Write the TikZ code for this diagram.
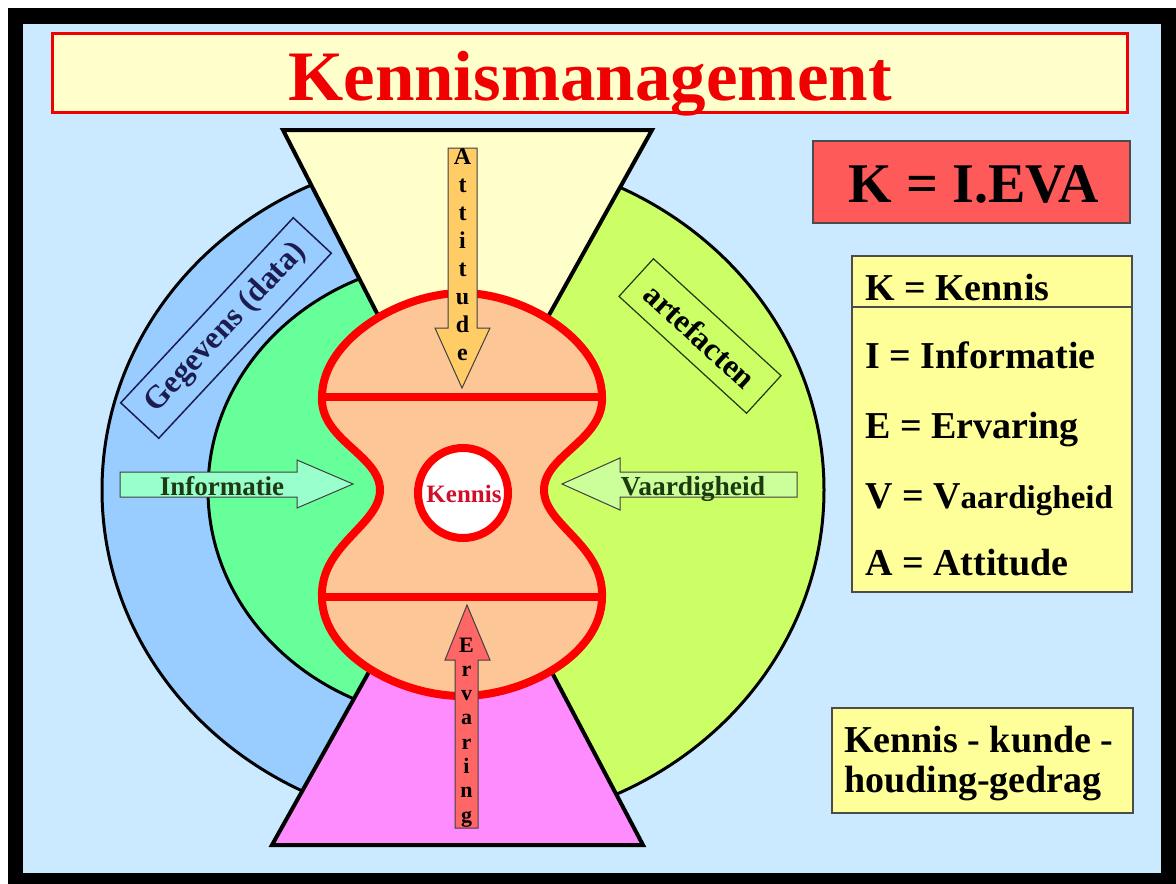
\documentclass[tikz,border=0pt]{standalone}
\usepackage{fontspec}
\setmainfont{Liberation Serif}
\definecolor{bgblue}{HTML}{CCEAFF}
\definecolor{titlered}{HTML}{F00000}
\definecolor{paleyellow}{HTML}{FFFFCC}
\definecolor{ringblue}{HTML}{99CCFF}
\definecolor{innergreen}{HTML}{66FF99}
\definecolor{limegreen}{HTML}{CCFF66}
\definecolor{pinkfill}{HTML}{FF8CFF}
\definecolor{peach}{HTML}{FCC696}
\definecolor{attfill}{HTML}{FFCC66}
\definecolor{ervfill}{HTML}{FF6666}
\definecolor{infofill}{HTML}{99FFCC}
\definecolor{vaarfill}{HTML}{CCFF99}
\definecolor{formulafill}{HTML}{FF5A5A}
\definecolor{legendfill}{HTML}{FFFF99}
\definecolor{navy}{HTML}{1C1C50}
\definecolor{darkgreen}{HTML}{1E3A10}
\definecolor{kennisred}{HTML}{D0102A}
\newcommand\pxsize[1]{\fontsize{#1}{#1}\selectfont}
\tikzset{
  ringline/.style={draw=black, line width=3},
  tri/.style={draw=black, line width=4, line join=miter},
  redline/.style={draw=red, line width=8},
  arrowshape/.style={draw=black!75, line width=1},
  lbl/.style={inner sep=0},
  boxline/.style={draw=black!70, line width=1.5},
  legendtext/.style={inner sep=0, font={\bfseries\pxsize{38}}, anchor=base west},
}
\begin{document}
\begin{tikzpicture}[x=1pt,y=-1pt]
\useasboundingbox (0,0) rectangle (1176,884);
% frame and background
\fill[white] (0,0) rectangle (1176,884);
\fill[black] (8,8) rectangle (1176,884);
\fill[bgblue] (23,24) rectangle (1161,873);

% title bar
\draw[draw=titlered, line width=3, fill=paleyellow] (52,33) rectangle (1127,112);
\node[lbl, text=titlered, font={\bfseries\pxsize{71}}, anchor=base] (title) at (590,100) {Kennismanagement};

% left half: data ring and information disc
\begin{scope}
  \clip (0,0) rectangle (463,884);
  \draw[ringline, fill=ringblue] (463,490) ellipse [x radius=361, y radius=336];
  \draw[ringline, fill=innergreen] (463,490) ellipse [x radius=255, y radius=231];
\end{scope}
% right half: artefacts
\begin{scope}
  \clip (463,0) rectangle (1176,884);
  \draw[ringline, fill=limegreen] (463,490) ellipse [x radius=361, y radius=336];
\end{scope}

% funnels
\draw[tri, fill=paleyellow] (283,130) -- (652,130) -- (460,475) -- cycle;
\draw[tri, fill=pinkfill] (272,845) -- (643,845) -- (463,504) -- cycle;

% hourglass of knowledge
\draw[redline, fill=peach, line join=round]
  (322,397) .. controls (322,340) and (400,293) .. (462,293)
  .. controls (524,293) and (602,340) .. (602,397)
  .. controls (604,440) and (544,455) .. (544,490)
  .. controls (544,525) and (604,545) .. (602,597)
  .. controls (602,655) and (524,696) .. (462,696)
  .. controls (400,696) and (322,655) .. (322,597)
  .. controls (320,545) and (380,525) .. (380,490)
  .. controls (380,455) and (320,440) .. (322,397) -- cycle;
\draw[redline] (322,397) -- (602,397);
\draw[redline] (322,597) -- (602,597);

\node[circle, draw=red, line width=8, fill=white, minimum size=90, inner sep=0] (kcircle) at (463,493) {};
\node[lbl, text=kennisred, font={\bfseries\pxsize{25}}, anchor=base] (kennis) at (464,502) {Kennis};

% Attitude arrow (down)
\draw[arrowshape, fill=attfill] (448,148) -- (477,148) -- (477,328) -- (490,328) -- (462,388) -- (435,328) -- (448,328) -- cycle;
\foreach \c [count=\i from 0] in {A,t,t,i,t,u,d,e}
  \node[lbl, font={\bfseries\pxsize{24}}, anchor=base] (att\i) at (462.5,{164+28*\i}) {\c};

% Ervaring arrow (up)
\draw[arrowshape, fill=ervfill] (455,828) -- (478,828) -- (478,660) -- (490,660) -- (467,605) -- (445,660) -- (455,660) -- cycle;
\foreach \c [count=\i from 0] in {E,r,v,a,r,i,n,g}
  \node[lbl, font={\bfseries\pxsize{22}}, anchor=base] (erv\i) at (466.5,{652+24.3*\i}) {\c};

% Informatie arrow (right)
\draw[arrowshape, fill=infofill] (120,472) -- (297,472) -- (297,460) -- (353,484) -- (297,508) -- (297,497) -- (120,497) -- cycle;
\node[lbl, text=darkgreen, font={\bfseries\pxsize{27}}, anchor=base] (info) at (222,495) {Informatie};

% Vaardigheid arrow (left)
\draw[arrowshape, fill=vaarfill] (797,472) -- (620,472) -- (620,458) -- (562,484) -- (620,510) -- (620,497) -- (797,497) -- cycle;
\node[lbl, text=darkgreen, font={\bfseries\pxsize{27.5}}, anchor=base] (vaar) at (693,495) {Vaardigheid};

% ring labels
\node[draw=navy, line width=1.5, rotate=47, minimum width=253, minimum height=52, inner sep=0,
      text=navy, font={\bfseries\pxsize{32}}] (data) at (226,328) {Gegevens (data)};
\node[draw=darkgreen, line width=1.2, rotate=-42.5, minimum width=173, minimum height=51, inner sep=0,
      font={\bfseries\pxsize{32}}] (artef) at (700,336) {artefacten};

% formula
\draw[boxline, fill=formulafill] (813,141) rectangle (1130,223);
\node[lbl, font={\bfseries\pxsize{56}}, anchor=base] (formula) at (974,202) {K = I.EVA};

% legend
\draw[boxline, fill=legendfill] (852,256) rectangle (1132,592);
\draw[boxline] (852,307) -- (1132,307);
\node[legendtext] (lk) at (865,300) {K = Kennis};
\node[legendtext] (li) at (865,368) {I = Informatie};
\node[legendtext] (le) at (865,438) {E = Ervaring};
\node[legendtext] (lv) at (865,508) {V = V{\pxsize{33}aardigheid}};
\node[legendtext] (la) at (865,575) {A = Attitude};

% bottom note
\draw[boxline, fill=legendfill] (832,708) rectangle (1133,813);
\node[legendtext] (note1) at (844,752) {Kennis - kunde -};
\node[legendtext] (note2) at (844,792) {houding-gedrag};
\end{tikzpicture}
\end{document}
